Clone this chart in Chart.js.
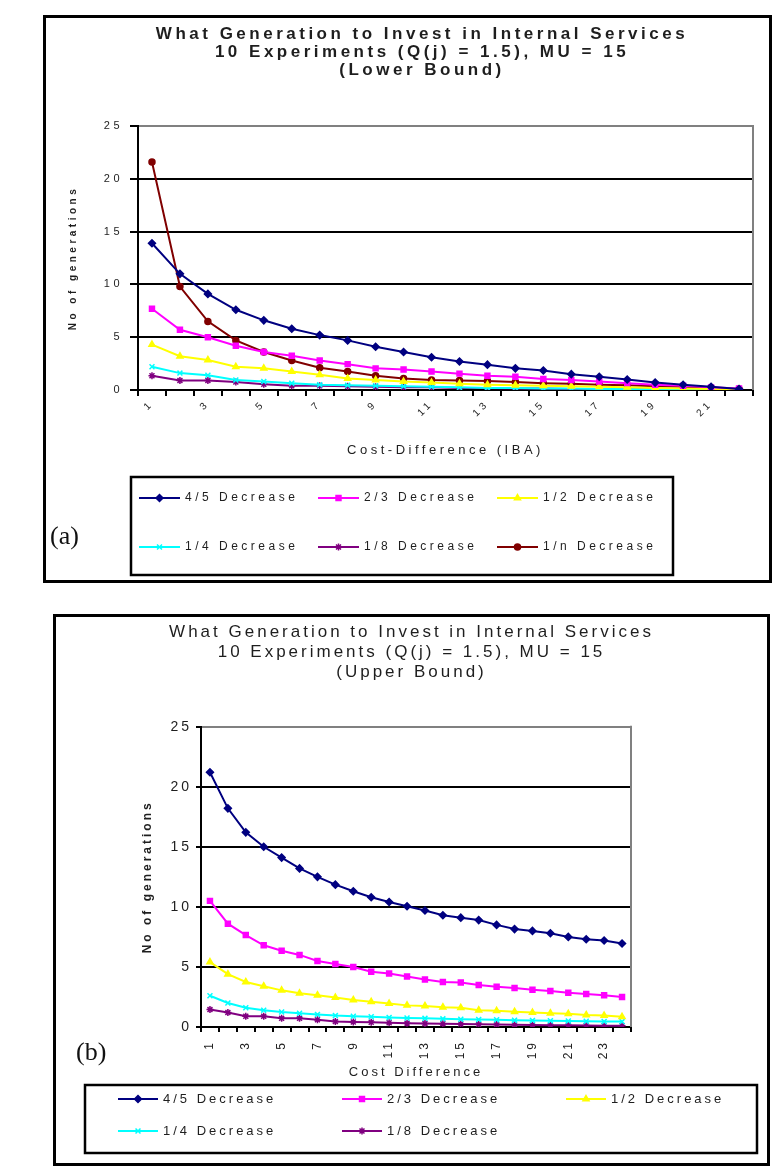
<!DOCTYPE html>
<html>
<head>
<meta charset="utf-8">
<script src="https://cdn.jsdelivr.net/npm/chart.js@4.4.0/dist/chart.umd.min.js"></script>
<style>
    body { margin: 0; background: #fff; width: 773px; height: 1171px; position: relative; overflow: hidden; }
    .frame { position: absolute; border: 3px solid #000; background: #fff; }
    .frame canvas { display: block; }
    .tag { position: absolute; font-family: 'Liberation Serif', 'Times New Roman', serif; font-size: 26px; color: #111; line-height: 1; }
</style>
</head>
<body>
<div class="frame" style="left:43px;top:15px;width:723px;height:562px"><canvas id="chartA" width="723" height="562"></canvas></div>
<div class="frame" style="left:53px;top:614px;width:711px;height:546px"><canvas id="chartB" width="711" height="546"></canvas></div>
<div class="tag" style="left:50px;top:523px">(a)</div>
<div class="tag" style="left:76px;top:1039px">(b)</div>
<script>
// ---- data: chart (a), lower bound ----
const costDiffA = [1, 2, 3, 4, 5, 6, 7, 8, 9, 10, 11, 12, 13, 14, 15, 16, 17, 18, 19, 20, 21, 22];
const fourFifthsA = [13.9, 11.0, 9.1, 7.6, 6.6, 5.8, 5.2, 4.7, 4.1, 3.6, 3.1, 2.7, 2.4, 2.05, 1.85, 1.5, 1.25, 1.0, 0.7, 0.5, 0.3, 0.1];
const twoThirdsA = [7.7, 5.7, 5.0, 4.2, 3.6, 3.25, 2.8, 2.45, 2.05, 1.95, 1.75, 1.55, 1.35, 1.25, 1.05, 0.95, 0.8, 0.65, 0.5, 0.4, 0.25, 0.15];
const halfA = [4.3, 3.2, 2.85, 2.2, 2.05, 1.75, 1.45, 1.1, 0.95, 0.8, 0.7, 0.6, 0.5, 0.45, 0.4, 0.35, 0.3, 0.25, 0.2, 0.15, 0.1, 0.05];
const quarterA = [2.2, 1.6, 1.4, 0.95, 0.8, 0.65, 0.5, 0.45, 0.4, 0.35, 0.3, 0.25, 0.2, 0.2, 0.15, 0.15, 0.1, 0.1, 0.05, 0.05, 0.05, 0];
const eighthA = [1.35, 0.9, 0.9, 0.75, 0.55, 0.4, 0.4, 0.35, 0.3, 0.25, 0.25, 0.2, 0.2, 0.15, 0.15, 0.1, 0.1, 0.1, 0.05, 0.05, 0, 0];
const oneOverNA = [21.6, 9.8, 6.5, 4.7, 3.6, 2.8, 2.1, 1.75, 1.35, 1.1, 0.95, 0.9, 0.85, 0.75, 0.65, 0.6, 0.5, 0.45, 0.35, 0.3, 0.2, 0.1];

// ---- data: chart (b), upper bound ----
const costDiffB = [1, 2, 3, 4, 5, 6, 7, 8, 9, 10, 11, 12, 13, 14, 15, 16, 17, 18, 19, 20, 21, 22, 23, 24];
const fourFifthsB = [21.2, 18.2, 16.2, 15.0, 14.1, 13.2, 12.5, 11.85, 11.3, 10.8, 10.4, 10.05, 9.7, 9.3, 9.1, 8.9, 8.5, 8.15, 8.0, 7.8, 7.5, 7.3, 7.2, 6.95];
const twoThirdsB = [10.5, 8.6, 7.65, 6.8, 6.35, 6.0, 5.5, 5.25, 5.0, 4.6, 4.45, 4.2, 3.95, 3.75, 3.7, 3.5, 3.35, 3.25, 3.1, 3.0, 2.85, 2.75, 2.65, 2.5];
const halfB = [5.4, 4.4, 3.75, 3.4, 3.05, 2.8, 2.65, 2.45, 2.25, 2.1, 1.95, 1.8, 1.75, 1.65, 1.6, 1.4, 1.35, 1.27, 1.2, 1.15, 1.1, 1.0, 0.95, 0.85];
const quarterB = [2.6, 2.0, 1.6, 1.4, 1.25, 1.15, 1.05, 0.95, 0.9, 0.85, 0.8, 0.75, 0.72, 0.68, 0.65, 0.62, 0.6, 0.57, 0.55, 0.52, 0.5, 0.48, 0.46, 0.45];
const eighthB = [1.45, 1.2, 0.9, 0.9, 0.72, 0.72, 0.6, 0.45, 0.42, 0.4, 0.35, 0.32, 0.3, 0.28, 0.25, 0.22, 0.2, 0.18, 0.17, 0.15, 0.14, 0.12, 0.11, 0.1];

const seriesNames = ["4/5 Decrease", "2/3 Decrease", "1/2 Decrease", "1/4 Decrease", "1/8 Decrease", "1/n Decrease"];
const titleA = ["What Generation to Invest in Internal Services", "10 Experiments (Q(j) = 1.5), MU = 15", "(Lower Bound)"];
const titleB = ["What Generation to Invest in Internal Services", "10 Experiments (Q(j) = 1.5), MU = 15", "(Upper Bound)"];

// ---- styles ----
const seriesColors = ["#000080", "#FF00FF", "#FFFF00", "#00FFFF", "#800080", "#800000"];
const seriesMarkers = ["rectRot", "rect", "triangle", "crossRot", "star", "circle"];
const FONT = "'Liberation Sans', Arial, sans-serif";
const TEXT = "#1e1e1e";

function series(idx, data) {
    const c = seriesColors[idx];
    return {
        label: seriesNames[idx],
        data: data,
        borderColor: c,
        backgroundColor: c,
        pointBackgroundColor: c,
        pointBorderColor: c,
        pointStyle: seriesMarkers[idx],
        pointRadius: idx === 5 ? 3 : 3.5,
        pointBorderWidth: 1.5,
        borderWidth: 2,
        tension: 0,
        fill: false
    };
}

// canvas letter spacing (the source text is widely spaced)
const spacingPlugin = {
    id: "spacing",
    afterInit(chart, args, opts) { chart.ctx.letterSpacing = opts.value; },
    beforeLayout(chart, args, opts) { chart.ctx.letterSpacing = opts.value; },
    beforeDraw(chart, args, opts) { chart.ctx.letterSpacing = opts.value; }
};

// let the title centre over the whole frame, not just the padded area
const titleSpanPlugin = {
    id: "titleSpan",
    afterLayout(chart, args, opts) {
        const t = chart.titleBlock;
        if (!t) return;
        t.left = opts.left;
        t.right = opts.right;
        t.width = opts.right - opts.left;
    }
};

// grey right edge of the plot area
const plotFramePlugin = {
    id: "plotFrame",
    beforeDatasetsDraw(chart, args, opts) {
        const { ctx, chartArea: a } = chart;
        ctx.save();
        ctx.strokeStyle = opts.color;
        ctx.lineWidth = opts.width;
        ctx.beginPath();
        ctx.moveTo(a.right, a.top - 1);
        ctx.lineTo(a.right, a.bottom);
        ctx.stroke();
        ctx.restore();
    }
};

// boxed legend with line + marker samples
const boxLegendPlugin = {
    id: "boxLegend",
    afterDraw(chart, args, o) {
        const ctx = chart.ctx;
        ctx.save();
        ctx.strokeStyle = "#000";
        ctx.lineWidth = o.borderWidth;
        ctx.strokeRect(o.box[0], o.box[1], o.box[2], o.box[3]);
        ctx.font = o.font;
        ctx.textBaseline = "middle";
        ctx.textAlign = "left";
        chart.data.datasets.forEach((ds, i) => {
            const x = o.cols[i % o.cols.length];
            const y = o.rows[Math.floor(i / o.cols.length)];
            ctx.strokeStyle = ds.borderColor;
            ctx.lineWidth = ds.borderWidth;
            ctx.beginPath();
            ctx.moveTo(x, y);
            ctx.lineTo(x + o.sample, y);
            ctx.stroke();
            ctx.fillStyle = ds.pointBackgroundColor;
            ctx.strokeStyle = ds.pointBorderColor;
            ctx.lineWidth = ds.pointBorderWidth;
            Chart.helpers.drawPoint(ctx, {
                pointStyle: ds.pointStyle, radius: ds.pointRadius, rotation: 0, borderWidth: ds.pointBorderWidth
            }, x + o.sample / 2, y);
            ctx.fillStyle = o.color;
            ctx.fillText(ds.label, x + o.sample + o.gap, y);
        });
        ctx.restore();
    }
};

document.addEventListener("DOMContentLoaded", function () {

    // (a) Lower bound
    new Chart(document.getElementById("chartA"), {
        type: "line",
        data: {
            labels: costDiffA,
            datasets: [
                series(0, fourFifthsA),
                series(1, twoThirdsA),
                series(2, halfA),
                series(3, quarterA),
                series(4, eighthA),
                series(5, oneOverNA)
            ]
        },
        options: {
            responsive: false,
            animation: false,
            devicePixelRatio: 1,
            layout: { padding: { left: 0, right: 16, top: 0, bottom: 112 } },
            plugins: {
                legend: { display: false },
                tooltip: { enabled: false },
                spacing: { value: "3.5px" },
                titleSpan: { left: 29, right: 723 },
                plotFrame: { color: "#808080", width: 2 },
                boxLegend: {
                    box: [85, 459, 542, 98], rows: [480, 529], cols: [93, 272, 451],
                    sample: 41, gap: 5, borderWidth: 2.5,
                    font: "12px " + FONT, color: TEXT
                },
                title: {
                    display: true, text: titleA, color: TEXT,
                    font: { family: FONT, size: 17, weight: "bold", lineHeight: 1.06 },
                    padding: { top: 7, bottom: 47 }
                }
            },
            scales: {
                x: {
                    offset: true,
                    ticks: {
                        autoSkip: false, minRotation: 45, maxRotation: 45, padding: 2,
                        color: TEXT, font: { family: FONT, size: 10 },
                        callback: function (v, i) { return i % 2 === 0 ? this.getLabelForValue(v) : ""; }
                    },
                    grid: { drawOnChartArea: false, tickLength: 6, color: "#000", lineWidth: 2, offset: true },
                    border: { color: "#000", width: 2 },
                    title: {
                        display: true, text: "Cost-Difference (IBA)", color: TEXT,
                        font: { family: FONT, size: 13 }, padding: { top: 0, bottom: 10 }
                    },
                    afterFit(scale) { scale.height = 78; }
                },
                y: {
                    min: 0, max: 25,
                    ticks: { stepSize: 5, padding: 7, color: TEXT, font: { family: FONT, size: 11 } },
                    grid: {
                        color: (c) => (c.tick && c.tick.value === 25 ? "#808080" : "#000"),
                        tickColor: "#000", lineWidth: 2, tickLength: 8
                    },
                    border: { color: "#000", width: 2 },
                    title: {
                        display: true, text: "No of generations", color: TEXT,
                        font: { family: FONT, size: 10, weight: "bold" }, padding: { top: 21, bottom: 0 }
                    },
                    afterFit(scale) { scale.width = 92; }
                }
            }
        },
        plugins: [spacingPlugin, titleSpanPlugin, plotFramePlugin, boxLegendPlugin]
    });

    // (b) Upper bound
    new Chart(document.getElementById("chartB"), {
        type: "line",
        data: {
            labels: costDiffB,
            datasets: [
                series(0, fourFifthsB),
                series(1, twoThirdsB),
                series(2, halfB),
                series(3, quarterB),
                series(4, eighthB)
            ]
        },
        options: {
            responsive: false,
            animation: false,
            devicePixelRatio: 1,
            layout: { padding: { left: 0, right: 136, top: 0, bottom: 80 } },
            plugins: {
                legend: { display: false },
                tooltip: { enabled: false },
                spacing: { value: "3px" },
                titleSpan: { left: 0, right: 711 },
                plotFrame: { color: "#808080", width: 2 },
                boxLegend: {
                    box: [29, 468, 672, 68], rows: [482, 514], cols: [62, 286, 510],
                    sample: 40, gap: 5, borderWidth: 2.5,
                    font: "13px " + FONT, color: TEXT
                },
                title: {
                    display: true, text: titleB, color: TEXT,
                    font: { family: FONT, size: 17, weight: "normal", lineHeight: 1.15 },
                    padding: { top: 6, bottom: 45 }
                }
            },
            scales: {
                x: {
                    offset: true,
                    ticks: {
                        autoSkip: false, minRotation: 90, maxRotation: 90, padding: 8,
                        color: TEXT, font: { family: FONT, size: 12 },
                        callback: function (v, i) { return i % 2 === 0 ? this.getLabelForValue(v) : ""; }
                    },
                    grid: { drawOnChartArea: false, tickLength: 5, color: "#000", lineWidth: 2, offset: true },
                    border: { color: "#000", width: 2 },
                    title: {
                        display: true, text: "Cost Difference", color: TEXT,
                        font: { family: FONT, size: 13 }, padding: { top: 0, bottom: 3 }
                    },
                    afterFit(scale) { scale.height = 56; }
                },
                y: {
                    min: 0, max: 25,
                    ticks: { stepSize: 5, padding: 4, color: TEXT, font: { family: FONT, size: 14 } },
                    grid: {
                        color: (c) => (c.tick && c.tick.value === 25 ? "#808080" : "#000"),
                        tickColor: "#000", lineWidth: 2, tickLength: 5
                    },
                    border: { color: "#000", width: 2 },
                    title: {
                        display: true, text: "No of generations", color: TEXT,
                        font: { family: FONT, size: 12, weight: "bold" }, padding: { top: 84, bottom: 0 }
                    },
                    afterFit(scale) { scale.width = 145; }
                }
            }
        },
        plugins: [spacingPlugin, titleSpanPlugin, plotFramePlugin, boxLegendPlugin]
    });

});
</script>
</body>
</html>
